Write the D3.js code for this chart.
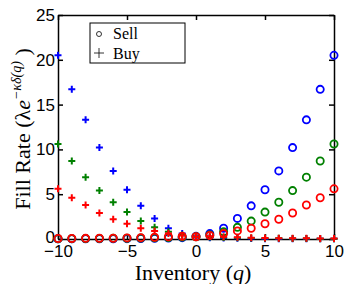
<!DOCTYPE html>
<html>
<head>
<meta charset="utf-8">
<script src="https://cdn.jsdelivr.net/npm/d3@7"></script>
<style>
body { margin: 0; background: #fff; }
svg { display: block; }
.tick text { font-family: "Liberation Sans", Arial, sans-serif; font-size: 17px; fill: #000; }
</style>
</head>
<body>
<div id="chart"></div>
<script>
// inventory levels
var inventory = [-10, -9, -8, -7, -6, -5, -4, -3, -2, -1, 0, 1, 2, 3, 4, 5, 6, 7, 8, 9, 10];

// sell-side fill rates (one array per curve)
var sellBlue  = [0.02, 0.02, 0.02, 0.02, 0.03, 0.04, 0.05, 0.07, 0.1, 0.15, 0.3, 0.6, 1.2, 2.3, 3.7, 5.5, 7.6, 10.2, 13.3, 16.7, 20.5];
var sellGreen = [0.03, 0.04, 0.05, 0.06, 0.07, 0.08, 0.1, 0.13, 0.17, 0.22, 0.25, 0.45, 0.8, 1.3, 2.0, 3.0, 4.1, 5.4, 6.9, 8.7, 10.6];
var sellRed   = [0.05, 0.06, 0.07, 0.08, 0.09, 0.12, 0.15, 0.2, 0.25, 0.3, 0.25, 0.4, 0.6, 0.9, 1.2, 1.7, 2.2, 2.9, 3.8, 4.6, 5.6];

// buy side mirrors the sell side
var buyBlue  = sellBlue.slice().reverse();
var buyGreen = sellGreen.slice().reverse();
var buyRed   = sellRed.slice().reverse();

var xTicks = [-10, -5, 0, 5, 10];
var yTicks = [0, 5, 10, 15, 20, 25];

var margin = {top: 15, right: 11, bottom: 45, left: 58},
    width = 345 - margin.left - margin.right,
    height = 284 - margin.top - margin.bottom;

var svg = d3.select("#chart")
    .append("svg")
    .attr("width", 345)
    .attr("height", 284)
    .append("g")
    .attr("transform", "translate(" + margin.left + "," + margin.top + ")");

var x = d3.scaleLinear().domain([-10, 10]).range([0, width]);
var y = d3.scaleLinear().domain([0, 25]).range([height, 0]);

// axes, ticks point inward, box on all four sides
svg.append("g")
    .attr("transform", "translate(0," + height + ")")
    .call(d3.axisBottom(x).tickValues(xTicks).tickSizeInner(-5).tickSizeOuter(0).tickPadding(6)
        .tickFormat(function (d) { return d < 0 ? "\u2212" + Math.abs(d) : d; }));
var yAxis = svg.append("g")
    .call(d3.axisLeft(y).tickValues(yTicks).tickSizeInner(-5).tickSizeOuter(0).tickPadding(3));
// lift the zero label a touch so it clears the -10 below it
yAxis.selectAll(".tick text").filter(function (d) { return d === 0; }).attr("dy", "0.2em");
svg.append("g")
    .call(d3.axisTop(x).tickValues(xTicks).tickSizeInner(-5).tickSizeOuter(0).tickFormat(""));
svg.append("g")
    .attr("transform", "translate(" + width + ",0)")
    .call(d3.axisRight(y).tickValues(yTicks).tickSizeInner(-5).tickSizeOuter(0).tickFormat(""));
svg.selectAll(".domain, .tick line").attr("stroke", "#000").attr("stroke-width", 1.5);

var series = [
    {color: "#0000ff", sell: sellBlue, buy: buyBlue},
    {color: "#008000", sell: sellGreen, buy: buyGreen},
    {color: "#ff0000", sell: sellRed, buy: buyRed}
];

series.forEach(function (s) {
    var g = svg.append("g");
    g.selectAll("path.buy")
        .data(s.buy)
        .enter()
        .append("path")
        .attr("class", "buy")
        .attr("d", function (d, i) {
            var cx = x(inventory[i]), cy = y(d);
            return "M" + (cx - 3.5) + "," + cy + "H" + (cx + 3.5) + "M" + cx + "," + (cy - 3.5) + "V" + (cy + 3.5);
        })
        .attr("stroke", s.color)
        .attr("stroke-width", 2)
        .attr("fill", "none");
    g.selectAll("circle")
        .data(s.sell)
        .enter()
        .append("circle")
        .attr("cx", function (d, i) { return x(inventory[i]); })
        .attr("cy", function (d) { return y(d); })
        .attr("r", 3.6)
        .attr("stroke", s.color)
        .attr("stroke-width", 1.8)
        .attr("fill", "none");
});

// legend
var legend = svg.append("g").attr("transform", "translate(32,8)");
legend.append("rect")
    .attr("width", 95).attr("height", 40)
    .attr("fill", "#fff").attr("stroke", "#000").attr("stroke-width", 1);
legend.append("circle")
    .attr("cx", 9).attr("cy", 11).attr("r", 2.5)
    .attr("fill", "none").attr("stroke", "#000").attr("stroke-width", 0.8);
legend.append("path")
    .attr("d", "M4,30H14M9,25V35")
    .attr("stroke", "#000").attr("stroke-width", 0.8);
legend.selectAll("text")
    .data(["Sell", "Buy"])
    .enter()
    .append("text")
    .attr("x", 23)
    .attr("y", function (d, i) { return 16 + i * 20; })
    .style("font-family", "'Liberation Serif', 'DejaVu Serif', serif")
    .style("font-size", "16px")
    .text(function (d) { return d; });

// axis labels
var xl = svg.append("text")
    .attr("x", width / 2 - 3)
    .attr("y", height + 41)
    .attr("text-anchor", "middle")
    .style("font-family", "'Liberation Serif', 'DejaVu Serif', serif")
    .style("font-size", "22px");
xl.append("tspan").text("Inventory (");
xl.append("tspan").style("font-style", "italic").text("q");
xl.append("tspan").text(")");

var yl = svg.append("text")
    .attr("transform", "translate(-28," + (height / 2 + 2) + ") rotate(-90)")
    .attr("text-anchor", "middle")
    .style("font-family", "'Liberation Serif', 'DejaVu Serif', serif")
    .style("font-size", "22px");
yl.append("tspan").text("Fill Rate (\u03bb");
yl.append("tspan").style("font-style", "italic").text("e");
yl.append("tspan").attr("dy", -9).style("font-size", "14px").style("font-style", "italic").text("\u2212\u03ba\u03b4(q)");
yl.append("tspan").attr("dy", 9).text(" )");
</script>
</body>
</html>
